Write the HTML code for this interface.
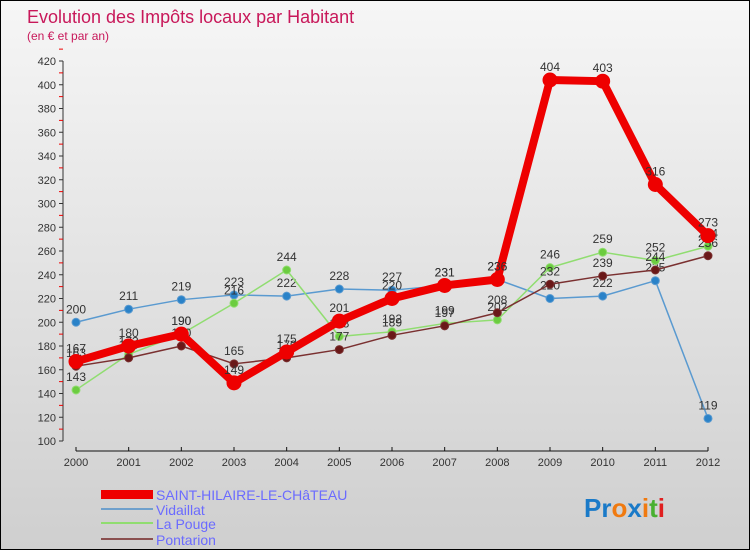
<!DOCTYPE html>
<html><head><meta charset="utf-8"><style>
body{margin:0;width:750px;height:550px;overflow:hidden;font-family:"Liberation Sans",sans-serif}
#wrap{position:relative;width:748px;height:548px;border:1px solid #000;background:linear-gradient(#f6f6f6,#cfcfcf)}
</style></head><body>
<div id="wrap">
<svg id="c" width="748" height="548" xmlns="http://www.w3.org/2000/svg">
<text x="26" y="22" font-size="18" fill="#c8185a">Evolution des Impôts locaux par Habitant</text>
<text x="26" y="39" font-size="12" fill="#c8185a">(en € et par an)</text>
<g id="axes"></g><g id="series"></g>
<g>
<rect x="100" y="489" width="52" height="9" fill="#e00"/>
<text x="155" y="499" font-size="14" fill="#6b6bff">SAINT-HILAIRE-LE-CHâTEAU</text>
<rect x="100" y="507" width="52" height="2" fill="#6fa0cc"/>
<text x="155" y="514" font-size="14" fill="#6b6bff">Vidaillat</text>
<rect x="100" y="521" width="52" height="2" fill="#90dd70"/>
<text x="155" y="528" font-size="14" fill="#6b6bff">La Pouge</text>
<rect x="100" y="537" width="52" height="2" fill="#8a5050"/>
<text x="155" y="544" font-size="14" fill="#6b6bff">Pontarion</text>
</g>
<text x="583" y="516" font-size="26" font-weight="bold"><tspan fill="#1a7ac8">Pr</tspan><tspan fill="#f07a10">o</tspan><tspan fill="#1a7ac8">x</tspan><tspan fill="#f07a10">i</tspan><tspan fill="#48b030">t</tspan><tspan fill="#e02020">i</tspan></text>
</svg></div>
<script>
const years=[2000,2001,2002,2003,2004,2005,2006,2007,2008,2009,2010,2011,2012];
const yTicks=[100,120,140,160,180,200,220,240,260,280,300,320,340,360,380,400,420];
const mainVals=[167,180,190,149,175,201,220,231,236,404,403,316,273];
const vidaillatVals=[200,211,219,223,222,228,227,231,236,220,222,235,119];
const laPougeVals=[143,173,190,216,244,188,192,199,202,246,259,252,264];
const pontarionVals=[163,170,180,165,170,177,189,197,208,232,239,244,256];
const NS="http://www.w3.org/2000/svg";
function X(i){return 75+i*(707-75)/(years.length-1);}
function Y(v){return 440-(v-100)*(380/320);}
function mk(t,a,p){const e=document.createElementNS(NS,t);for(const k in a)e.setAttribute(k,a[k]);p.appendChild(e);return e;}
const ax=document.getElementById('axes');
let l=mk('line',{x1:62,y1:60,x2:62,y2:440,stroke:'#333'},ax);


yTicks.forEach(v=>{
 mk('line',{x1:58,y1:Y(v),x2:62,y2:Y(v),stroke:'#333'},ax);
 mk('line',{x1:58,y1:Y(v+10),x2:62,y2:Y(v+10),stroke:'#e00'},ax);
 const t=mk('text',{x:55,y:Y(v)+4,'font-size':11,fill:'#333','text-anchor':'end'},ax);t.textContent=v;
 
 
});
l=mk('line',{x1:75,y1:450,x2:707,y2:450,stroke:'#111'},ax);


years.forEach((y,i)=>{
 mk('line',{x1:X(i),y1:446,x2:X(i),y2:450,stroke:'#111'},ax);
 const t=mk('text',{x:X(i),y:465,'font-size':11,fill:'#333','text-anchor':'middle'},ax);t.textContent=y;
 
 
});
const sg=document.getElementById('series');
function series(vals,color,w,r,dot,name){
 const g=mk('g',{},sg);
 
 
 mk('polyline',{points:vals.map((v,i)=>X(i)+','+Y(v)).join(' '),fill:'none',stroke:color,'stroke-width':w,'stroke-linejoin':'round'},g);
 vals.forEach((v,i)=>{
  const c=mk('circle',{cx:X(i),cy:Y(v),r:r,fill:dot,stroke:color,'stroke-width':1},g);
  
  
  const t=mk('text',{x:X(i),y:Y(v)-9,'font-size':12,fill:'#333','text-anchor':'middle'},g);t.textContent=v;
  
  
 });
}
series(vidaillatVals,'#5a9ad0',1.5,4,'#2a82c8','vidaillat-series');
series(laPougeVals,'#90dd70',1.5,4,'#6ccc40','la-pouge-series');
series(pontarionVals,'#7a3030',1.5,4,'#6a1818','pontarion-series');
series(mainVals,'#e00',8,7,'#e00','main-series');
</script>
</body></html>
